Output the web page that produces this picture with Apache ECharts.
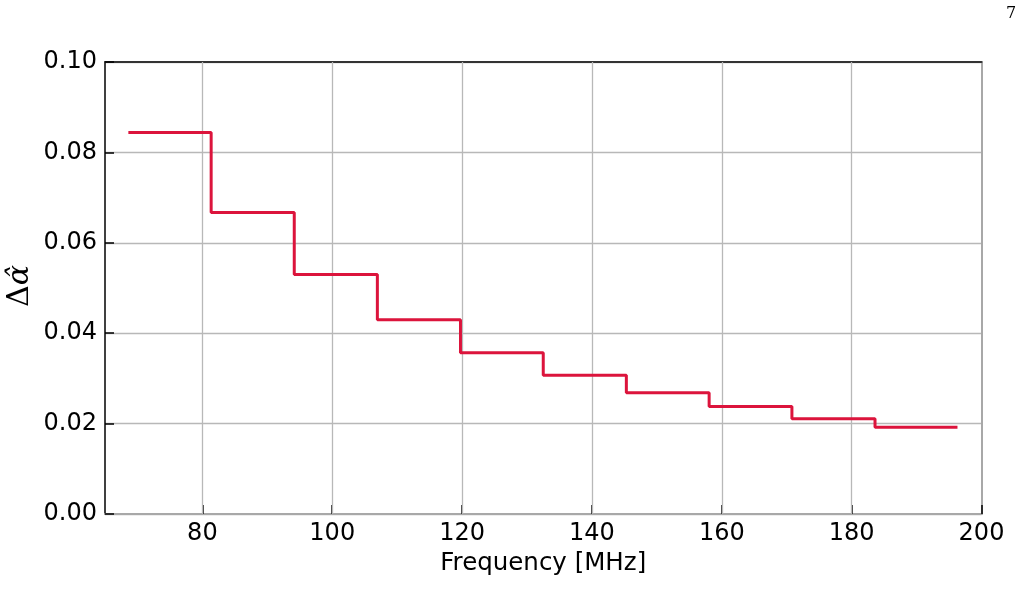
<!DOCTYPE html>
<html>
<head>
<meta charset="utf-8">
<script src="https://cdn.jsdelivr.net/npm/echarts@6/dist/echarts.min.js"></script>
<style>
  html, body { margin: 0; padding: 0; background: #fff; }
  #chart { width: 1023px; height: 599px; }
</style>
</head>
<body>
<div id="chart"></div>
<script>
// bin edges (MHz) and the step value in each bin
const binEdges = [68.6, 81.35, 94.15, 106.95, 119.75, 132.5, 145.3, 158.05, 170.8, 183.6, 196.3];
const deltaAlpha = [0.0844, 0.0667, 0.0530, 0.0430, 0.0357, 0.0307, 0.0268, 0.0238, 0.0211, 0.0192];
const xTicks = [80, 100, 120, 140, 160, 180, 200];
const yTicks = ['0.00', '0.02', '0.04', '0.06', '0.08', '0.10'];

// one point per edge, last value repeated to close the final bin
const stepData = binEdges.map((x, i) => [x, deltaAlpha[Math.min(i, deltaAlpha.length - 1)]]);

const font = 'DejaVu Sans';
const chart = echarts.init(document.getElementById('chart'));
chart.setOption({
    animation: false,
    grid: { left: 105, right: 41.5, top: 62, bottom: 85 },
    xAxis: [
        {
            type: 'value', min: 65, max: 200,
            position: 'bottom',
            name: 'Frequency [MHz]', nameLocation: 'middle', nameGap: 36,
            nameTextStyle: { fontFamily: font, fontSize: 24.5, color: '#000' },
            axisLine: { show: true, onZero: false, lineStyle: { color: '#a8a8a8', width: 2 } },
            axisTick: { show: true, inside: true, length: 9, lineStyle: { color: '#000', width: 1.5 },
                customValues: xTicks },
            axisLabel: { fontFamily: font, fontSize: 24, color: '#000', margin: 8,
                customValues: xTicks },
            splitLine: { show: false }
        },
        {
            type: 'value', min: 65, max: 200, position: 'top',
            axisLine: { show: true, onZero: false, lineStyle: { color: '#333', width: 2 } },
            axisTick: { show: false }, axisLabel: { show: false }, splitLine: { show: false }
        }
    ],
    yAxis: [
        {
            type: 'value', min: 0, max: 0.1, interval: 0.02, position: 'left',
            axisLine: { show: true, onZero: false, lineStyle: { color: '#000', width: 1.5 } },
            axisTick: { show: true, inside: true, length: 9, lineStyle: { color: '#000', width: 1.5 } },
            axisLabel: { fontFamily: font, fontSize: 24, color: '#000', margin: 8,
                formatter: (v) => yTicks[Math.round(v / 0.02)] },
            splitLine: { show: true, lineStyle: { color: '#b8b8b8', width: 1.3 } }
        },
        {
            type: 'value', min: 0, max: 0.1, position: 'right',
            axisLine: { show: true, onZero: false, lineStyle: { color: '#a8a8a8', width: 2 } },
            axisTick: { show: false }, axisLabel: { show: false }, splitLine: { show: false }
        }
    ],
    series: [
        {
            // vertical grid lines at the labelled x ticks
            type: 'line', data: [], silent: true,
            markLine: {
                silent: true, symbol: 'none', animation: false,
                label: { show: false },
                lineStyle: { color: '#b8b8b8', width: 1.3, type: 'solid' },
                data: xTicks.filter(v => v < 200).map(v => ({ xAxis: v }))
            },
            z: 1
        },
        {
            type: 'line',
            step: 'end',
            data: stepData,
            symbol: 'none',
            lineStyle: { color: '#dc143c', width: 3 },
            z: 5
        }
    ],
    graphic: [
        {
            type: 'text', x: 20, y: 286, rotation: Math.PI / 2, originX: 0, originY: 0,
            style: {
                text: '{d|Δ}{a|α̂}',
                rich: {
                    d: { fontFamily: 'DejaVu Serif', fontSize: 30, fill: '#000' },
                    a: { fontFamily: 'DejaVu Serif', fontStyle: 'italic', fontSize: 30, fill: '#000' }
                },
                align: 'center', verticalAlign: 'middle'
            }
        },
        {
            type: 'text', x: 1011, y: 14,
            style: { text: '7', fontFamily: 'DejaVu Serif', fontSize: 16, fill: '#000',
                align: 'center', verticalAlign: 'middle' }
        }
    ]
});
</script>
</body>
</html>
